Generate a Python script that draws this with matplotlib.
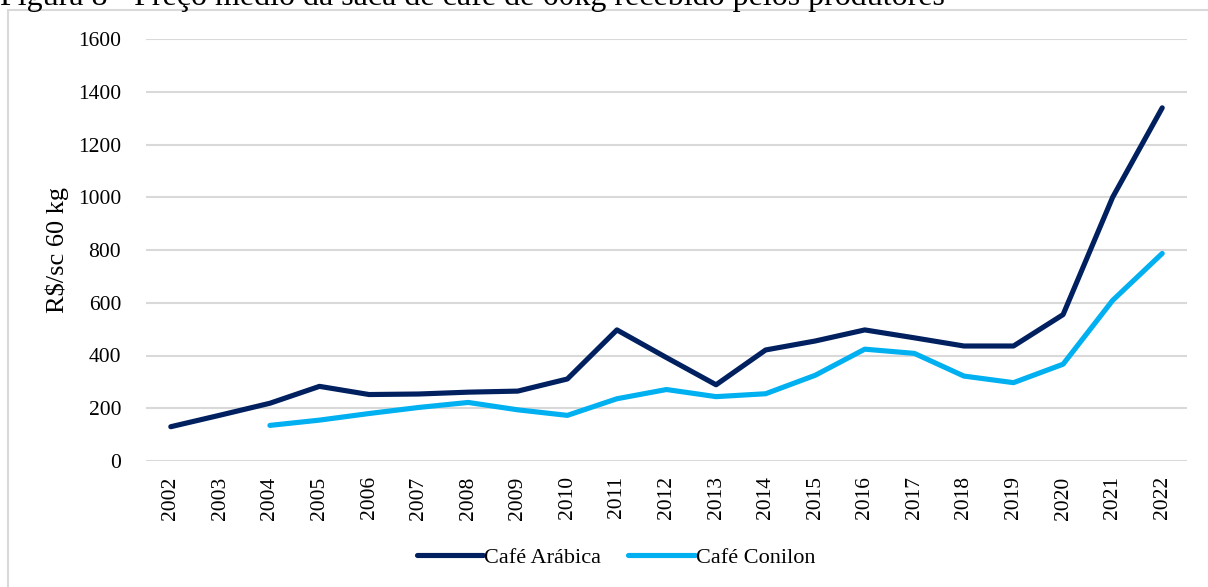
import matplotlib

matplotlib.use("Agg")
import matplotlib.pyplot as plt
from matplotlib.patches import Rectangle

years = [str(y) for y in range(2002, 2023)]
arabica = [130, 174, 219, 283, 252, 254, 261, 265, 311, 497, 392,
           289, 421, 455, 497, 467, 436, 436, 555, 1000, 1339]
conilon = [None, None, 135, 155, 180, 203, 222, 194, 173, 236, 271,
           244, 255, 325, 424, 408, 322, 297, 367, 609, 787]
yticks = [0, 200, 400, 600, 800, 1000, 1200, 1400, 1600]

NAVY = "#002060"
CYAN = "#00B0F0"
GRID = "#D9D9D9"

plt.rcParams["font.family"] = ["Liberation Serif", "DejaVu Serif"]

fig = plt.figure(figsize=(12.08, 5.87), dpi=100)
ax = fig.add_axes([146 / 1208, 1 - 461 / 587, (1187 - 146) / 1208, (461 - 39) / 587])

# caption of the figure, cut by the top edge as in the source page
fig.text(0.0, 1.0 + 3 / 587, "Figura 8 - Preço médio da saca de café de 60kg recebido pelos produtores",
         fontsize=23, ha="left", va="center", color="black")

# chart area frame
fig.patches.append(Rectangle((8 / 1208, -0.05), 1.2, 1 - 10 / 587 + 0.05,
                             transform=fig.transFigure, fill=False,
                             edgecolor=GRID, linewidth=1.5))

x = list(range(len(years)))
ax.plot(x, arabica, color=NAVY, lw=3.7, solid_capstyle="round",
        solid_joinstyle="round", label="Café Arábica")
cx = [i for i, v in zip(x, conilon) if v is not None]
cv = [v for v in conilon if v is not None]
ax.plot(cx, cv, color=CYAN, lw=3.7, solid_capstyle="round",
        solid_joinstyle="round", label="Café Conilon")

ax.set_xlim(-0.5, len(years) - 0.5)
ax.set_ylim(0, 1600)
ax.set_yticks(yticks)
ax.set_yticklabels([str(t) for t in yticks], fontsize=15.5)
ax.set_xticks(x)
ax.set_xticklabels(years, rotation=90, fontsize=15.5)
ax.tick_params(length=0)
ax.tick_params(axis="y", pad=18)
ax.tick_params(axis="x", pad=11)
ax.grid(axis="y", color=GRID, lw=1.5)
ax.set_axisbelow(True)
for s in ax.spines.values():
    s.set_visible(False)
ax.set_ylabel("R$/sc 60 kg", fontsize=19, labelpad=6)

fig.legend(loc="center", bbox_to_anchor=(616 / 1208, 1 - 558 / 587), ncol=2,
           frameon=False, fontsize=16, handlelength=3.0, handletextpad=0.05,
           columnspacing=1.2)

fig.savefig("out.png", dpi=100)
